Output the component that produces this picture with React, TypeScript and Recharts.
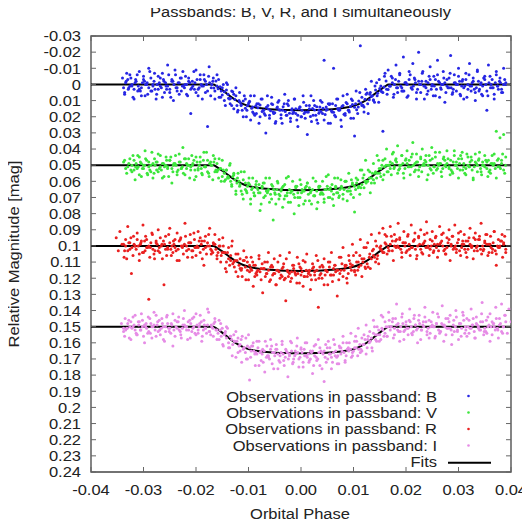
import React from 'react';
import { ComposedChart, Scatter, Line, XAxis, YAxis, ReferenceArea } from 'recharts';

// scattered observations: [orbital phase, relative magnitude]
const obsB: [number, number][] = [
  [-0.034, -0.004], [-0.0336, 0.006], [-0.0333, -0.002], [-0.0329, 0.003], [-0.0326, -0.006], [-0.0322, 0.001],
  [-0.0318, 0.009], [-0.0315, -0.003], [-0.0311, 0.004], [-0.0308, -0.008], [-0.0304, 0.002], [-0.03, -0.005],
  [-0.0297, 0.007], [-0.0293, -0.001], [-0.029, -0.01], [-0.0286, 0.004], [-0.0282, 0.0], [-0.0279, -0.007],
  [-0.0275, 0.006], [-0.0272, 0.003], [-0.0268, -0.004], [-0.0264, 0.008], [-0.0261, -0.002], [-0.0257, 0.001],
  [-0.0254, -0.012], [-0.025, 0.005], [-0.0246, -0.003], [-0.0243, 0.01], [-0.0239, -0.006], [-0.0236, 0.002],
  [-0.0232, -0.001], [-0.0228, 0.004], [-0.0225, -0.008], [-0.0221, 0.0], [-0.0218, 0.006], [-0.0214, -0.004],
  [-0.021, 0.018], [-0.0207, -0.002], [-0.0203, 0.003], [-0.02, -0.009], [-0.0196, 0.007], [-0.0192, -0.003],
  [-0.0189, 0.001], [-0.0185, -0.006], [-0.0182, 0.005], [-0.0178, 0.026], [-0.0175, -0.011], [-0.0171, 0.002],
  [-0.0167, -0.004], [-0.0164, 0.009], [-0.016, 0.001], [-0.0157, -0.003], [-0.0153, 0.008], [-0.015, 0.002],
  [-0.0146, 0.01], [-0.0142, -0.001], [-0.0139, 0.006], [-0.0135, 0.012], [-0.0132, 0.004], [-0.0128, 0.015],
  [-0.0124, 0.007], [-0.0121, 0.017], [-0.0117, 0.005], [-0.0114, 0.013], [-0.011, 0.02], [-0.0106, 0.009],
  [-0.0103, 0.016], [-0.0099, 0.011], [-0.0096, 0.022], [-0.0092, 0.014], [-0.0089, 0.007], [-0.0085, 0.018],
  [-0.0081, 0.012], [-0.0078, 0.02], [-0.0074, 0.009], [-0.0071, 0.016], [-0.0067, 0.03], [-0.0063, 0.013],
  [-0.006, 0.019], [-0.0056, 0.008], [-0.0053, 0.017], [-0.0049, 0.024], [-0.0045, 0.014], [-0.0042, 0.01],
  [-0.0038, 0.021], [-0.0035, 0.016], [-0.0031, 0.006], [-0.0027, 0.019], [-0.0024, 0.013], [-0.002, 0.023],
  [-0.0017, 0.015], [-0.0013, 0.009], [-0.001, 0.018], [-0.0006, 0.026], [-0.0002, 0.014], [0.0001, 0.02],
  [0.0005, 0.011], [0.0008, 0.017], [0.0012, 0.031], [0.0016, 0.015], [0.0019, 0.007], [0.0023, 0.019],
  [0.0026, 0.013], [0.003, 0.022], [0.0034, 0.016], [0.0037, 0.01], [0.0041, 0.018], [0.0044, -0.015],
  [0.0048, 0.014], [0.0052, 0.024], [0.0055, 0.012], [0.0059, 0.017], [0.0062, -0.01], [0.0066, 0.02],
  [0.007, 0.009], [0.0073, 0.015], [0.0077, 0.026], [0.008, 0.013], [0.0084, 0.018], [0.0088, 0.006],
  [0.0091, 0.016], [0.0095, 0.021], [0.0098, 0.01], [0.0102, 0.032], [0.0105, 0.004], [0.0109, 0.014],
  [0.0113, -0.024], [0.0116, 0.008], [0.012, 0.017], [0.0123, 0.003], [0.0127, 0.012], [0.0131, 0.006],
  [0.0134, -0.002], [0.0138, 0.01], [0.0141, 0.001], [0.0145, 0.007], [0.0149, -0.003], [0.0152, 0.004],
  [0.0156, 0.029], [0.0159, -0.005], [0.0163, 0.003], [0.0166, -0.009], [0.017, 0.001], [0.0174, -0.004],
  [0.0177, 0.006], [0.0181, -0.012], [0.0184, 0.002], [0.0188, -0.006], [0.0192, 0.004], [0.0195, -0.017],
  [0.0199, -0.001], [0.0202, 0.008], [0.0206, -0.008], [0.021, 0.002], [0.0213, -0.013], [0.0217, -0.003],
  [0.022, 0.005], [0.0224, -0.02], [0.0228, 0.0], [0.0231, -0.007], [0.0235, 0.009], [0.0238, -0.002],
  [0.0242, 0.004], [0.0246, -0.011], [0.0249, 0.001], [0.0253, -0.005], [0.0256, 0.007], [0.026, -0.015],
  [0.0264, -0.001], [0.0267, 0.003], [0.0271, -0.008], [0.0274, 0.011], [0.0278, -0.003], [0.0282, 0.002],
  [0.0285, -0.018], [0.0289, 0.005], [0.0292, -0.006], [0.0296, 0.0], [0.03, -0.01], [0.0303, 0.006],
  [0.0307, -0.002], [0.031, 0.009], [0.0314, -0.007], [0.0318, 0.003], [0.0321, -0.013], [0.0325, 0.001],
  [0.0328, -0.004], [0.0332, 0.01], [0.0336, -0.009], [0.0339, 0.004], [0.0343, -0.001], [0.0346, 0.007],
  [0.035, -0.005], [0.0354, 0.016], [0.0357, -0.012], [0.0361, 0.002], [0.0364, -0.003], [0.0368, 0.006],
  [0.0372, -0.008], [0.0375, 0.001], [0.0379, -0.004], [0.0382, 0.005], [0.0386, -0.01], [0.039, 0.0],
];

const obsV: [number, number][] = [
  [-0.0322, 0.054], [-0.0318, 0.047], [-0.0315, 0.051], [-0.0311, 0.044], [-0.0308, 0.056], [-0.0304, 0.049],
  [-0.03, 0.052], [-0.0297, 0.041], [-0.0293, 0.055], [-0.029, 0.048], [-0.0286, 0.05], [-0.0282, 0.058],
  [-0.0279, 0.046], [-0.0275, 0.053], [-0.0272, 0.043], [-0.0268, 0.051], [-0.0264, 0.049], [-0.0261, 0.057],
  [-0.0257, 0.045], [-0.0254, 0.052], [-0.025, 0.047], [-0.0246, 0.061], [-0.0243, 0.05], [-0.0239, 0.044],
  [-0.0236, 0.054], [-0.0232, 0.048], [-0.0228, 0.052], [-0.0225, 0.039], [-0.0221, 0.056], [-0.0218, 0.049],
  [-0.0214, 0.046], [-0.021, 0.053], [-0.0207, 0.05], [-0.0203, 0.059], [-0.02, 0.045], [-0.0196, 0.052],
  [-0.0192, 0.048], [-0.0189, 0.055], [-0.0185, 0.042], [-0.0182, 0.051], [-0.0178, 0.047], [-0.0175, 0.057],
  [-0.0171, 0.05], [-0.0167, 0.044], [-0.0164, 0.054], [-0.016, 0.049], [-0.0157, 0.058], [-0.0153, 0.052],
  [-0.015, 0.047], [-0.0146, 0.06], [-0.0142, 0.053], [-0.0139, 0.057], [-0.0135, 0.049], [-0.0132, 0.062],
  [-0.0128, 0.055], [-0.0124, 0.066], [-0.0121, 0.058], [-0.0117, 0.063], [-0.0114, 0.054], [-0.011, 0.071],
  [-0.0106, 0.061], [-0.0103, 0.067], [-0.0099, 0.058], [-0.0096, 0.074], [-0.0092, 0.064], [-0.0089, 0.069],
  [-0.0085, 0.06], [-0.0081, 0.067], [-0.0078, 0.078], [-0.0074, 0.063], [-0.0071, 0.07], [-0.0067, 0.058],
  [-0.0063, 0.066], [-0.006, 0.073], [-0.0056, 0.062], [-0.0053, 0.084], [-0.0049, 0.068], [-0.0045, 0.06],
  [-0.0042, 0.071], [-0.0038, 0.065], [-0.0035, 0.076], [-0.0031, 0.062], [-0.0027, 0.069], [-0.0024, 0.057],
  [-0.002, 0.073], [-0.0017, 0.066], [-0.0013, 0.08], [-0.001, 0.063], [-0.0006, 0.07], [-0.0002, 0.059],
  [0.0001, 0.067], [0.0005, 0.074], [0.0008, 0.064], [0.0012, 0.061], [0.0016, 0.072], [0.0019, 0.066],
  [0.0023, 0.058], [0.0026, 0.069], [0.003, 0.077], [0.0034, 0.063], [0.0037, 0.068], [0.0041, 0.06],
  [0.0044, 0.073], [0.0048, 0.065], [0.0052, 0.056], [0.0055, 0.07], [0.0059, 0.062], [0.0062, 0.075],
  [0.0066, 0.064], [0.007, 0.058], [0.0073, 0.069], [0.0077, 0.063], [0.008, 0.071], [0.0084, 0.06],
  [0.0088, 0.066], [0.0091, 0.055], [0.0095, 0.068], [0.0098, 0.061], [0.0102, 0.079], [0.0105, 0.058],
  [0.0109, 0.064], [0.0113, 0.053], [0.0116, 0.062], [0.012, 0.056], [0.0123, 0.047], [0.0127, 0.06],
  [0.0131, 0.054], [0.0134, 0.058], [0.0138, 0.049], [0.0141, 0.055], [0.0145, 0.044], [0.0149, 0.052],
  [0.0152, 0.057], [0.0156, 0.047], [0.0159, 0.051], [0.0163, 0.04], [0.0166, 0.054], [0.017, 0.048],
  [0.0174, 0.043], [0.0177, 0.052], [0.0181, 0.046], [0.0184, 0.038], [0.0188, 0.05], [0.0192, 0.044],
  [0.0195, 0.055], [0.0199, 0.047], [0.0202, 0.041], [0.0206, 0.051], [0.021, 0.045], [0.0213, 0.036],
  [0.0217, 0.049], [0.022, 0.043], [0.0224, 0.053], [0.0228, 0.046], [0.0231, 0.04], [0.0235, 0.05],
  [0.0238, 0.044], [0.0242, 0.056], [0.0246, 0.047], [0.0249, 0.039], [0.0253, 0.051], [0.0256, 0.045],
  [0.026, 0.049], [0.0264, 0.042], [0.0267, 0.054], [0.0271, 0.046], [0.0274, 0.05], [0.0278, 0.041],
  [0.0282, 0.052], [0.0285, 0.047], [0.0289, 0.055], [0.0292, 0.044], [0.0296, 0.05], [0.03, 0.046],
  [0.0303, 0.053], [0.0307, 0.042], [0.031, 0.049], [0.0314, 0.056], [0.0318, 0.045], [0.0321, 0.051],
  [0.0325, 0.047], [0.0328, 0.058], [0.0332, 0.043], [0.0336, 0.05], [0.0339, 0.046], [0.0343, 0.054],
  [0.0346, 0.048], [0.035, 0.044], [0.0354, 0.052], [0.0357, 0.047], [0.0361, 0.055], [0.0364, 0.049],
  [0.0368, 0.043], [0.0372, 0.029], [0.0375, 0.051], [0.0379, 0.033], [0.0382, 0.047], [0.0386, 0.031],
  [0.039, 0.045],
];

const obsR: [number, number][] = [
  [-0.0352, 0.095], [-0.0348, 0.103], [-0.0345, 0.091], [-0.0341, 0.099], [-0.0337, 0.107], [-0.0334, 0.096],
  [-0.033, 0.088], [-0.0326, 0.102], [-0.0323, 0.117], [-0.0319, 0.094], [-0.0316, 0.1], [-0.0312, 0.092],
  [-0.0308, 0.105], [-0.0305, 0.098], [-0.0301, 0.087], [-0.0297, 0.103], [-0.0294, 0.096], [-0.029, 0.133],
  [-0.0287, 0.101], [-0.0283, 0.093], [-0.0279, 0.108], [-0.0276, 0.097], [-0.0272, 0.09], [-0.0269, 0.104],
  [-0.0265, 0.099], [-0.0261, 0.124], [-0.0258, 0.094], [-0.0254, 0.102], [-0.025, 0.089], [-0.0247, 0.106],
  [-0.0243, 0.097], [-0.024, 0.101], [-0.0236, 0.092], [-0.0232, 0.109], [-0.0229, 0.095], [-0.0225, 0.1],
  [-0.0221, 0.086], [-0.0218, 0.103], [-0.0214, 0.098], [-0.0211, 0.093], [-0.0207, 0.107], [-0.0203, 0.096],
  [-0.02, 0.101], [-0.0196, 0.091], [-0.0192, 0.104], [-0.0189, 0.097], [-0.0185, 0.112], [-0.0182, 0.094],
  [-0.0178, 0.1], [-0.0174, 0.089], [-0.0171, 0.105], [-0.0167, 0.098], [-0.0164, 0.093], [-0.016, 0.106],
  [-0.0156, 0.1], [-0.0153, 0.11], [-0.0149, 0.095], [-0.0145, 0.104], [-0.0142, 0.116], [-0.0138, 0.101],
  [-0.0134, 0.109], [-0.0131, 0.097], [-0.0127, 0.113], [-0.0124, 0.105], [-0.012, 0.119], [-0.0116, 0.108],
  [-0.0113, 0.114], [-0.0109, 0.103], [-0.0105, 0.121], [-0.0102, 0.11], [-0.0098, 0.116], [-0.0095, 0.107],
  [-0.0091, 0.125], [-0.0087, 0.112], [-0.0084, 0.118], [-0.008, 0.106], [-0.0076, 0.114], [-0.0073, 0.129],
  [-0.0069, 0.11], [-0.0065, 0.117], [-0.0062, 0.104], [-0.0058, 0.121], [-0.0054, 0.113], [-0.0051, 0.108],
  [-0.0047, 0.124], [-0.0044, 0.115], [-0.004, 0.106], [-0.0036, 0.119], [-0.0033, 0.111], [-0.0029, 0.134],
  [-0.0025, 0.116], [-0.0022, 0.104], [-0.0018, 0.12], [-0.0014, 0.112], [-0.0011, 0.117], [-0.0007, 0.107],
  [-0.0003, 0.123], [0.0, 0.114], [0.0004, 0.109], [0.0007, 0.119], [0.0011, 0.105], [0.0015, 0.116],
  [0.0018, 0.127], [0.0022, 0.111], [0.0026, 0.118], [0.0029, 0.106], [0.0033, 0.138], [0.0036, 0.113],
  [0.004, 0.12], [0.0044, 0.108], [0.0047, 0.115], [0.0051, 0.124], [0.0055, 0.11], [0.0058, 0.104],
  [0.0062, 0.118], [0.0065, 0.112], [0.0069, 0.131], [0.0073, 0.107], [0.0076, 0.115], [0.008, 0.101],
  [0.0084, 0.113], [0.0087, 0.12], [0.0091, 0.106], [0.0094, 0.111], [0.0098, 0.099], [0.0102, 0.116],
  [0.0105, 0.104], [0.0109, 0.11], [0.0113, 0.096], [0.0116, 0.108], [0.012, 0.101], [0.0123, 0.114],
  [0.0127, 0.098], [0.0131, 0.105], [0.0134, 0.093], [0.0138, 0.102], [0.0142, 0.097], [0.0145, 0.108],
  [0.0149, 0.092], [0.0152, 0.1], [0.0156, 0.089], [0.016, 0.098], [0.0163, 0.094], [0.0167, 0.103],
  [0.017, 0.088], [0.0174, 0.097], [0.0178, 0.093], [0.0181, 0.101], [0.0185, 0.086], [0.0188, 0.096],
  [0.0192, 0.104], [0.0196, 0.091], [0.0199, 0.098], [0.0203, 0.094], [0.0206, 0.102], [0.021, 0.087],
  [0.0214, 0.097], [0.0217, 0.092], [0.0221, 0.106], [0.0224, 0.095], [0.0228, 0.09], [0.0232, 0.099],
  [0.0235, 0.093], [0.0239, 0.085], [0.0242, 0.101], [0.0246, 0.096], [0.025, 0.091], [0.0253, 0.103],
  [0.0257, 0.094], [0.026, 0.099], [0.0264, 0.088], [0.0268, 0.097], [0.0271, 0.092], [0.0275, 0.105],
  [0.0278, 0.095], [0.0282, 0.09], [0.0286, 0.1], [0.0289, 0.094], [0.0293, 0.087], [0.0296, 0.102],
  [0.03, 0.096], [0.0304, 0.091], [0.0307, 0.099], [0.0311, 0.093], [0.0314, 0.104], [0.0318, 0.097],
  [0.0322, 0.089], [0.0325, 0.101], [0.0329, 0.095], [0.0332, 0.092], [0.0336, 0.1], [0.034, 0.096],
  [0.0343, 0.086], [0.0347, 0.103], [0.035, 0.097], [0.0354, 0.093], [0.0358, 0.099], [0.0361, 0.094],
  [0.0365, 0.102], [0.0368, 0.091], [0.0372, 0.112], [0.0376, 0.096], [0.0379, 0.1], [0.0383, 0.093],
  [0.0386, 0.098], [0.039, 0.104],
];

const obsI: [number, number][] = [
  [-0.0342, 0.148], [-0.0338, 0.153], [-0.0335, 0.145], [-0.0331, 0.151], [-0.0327, 0.157], [-0.0324, 0.147],
  [-0.032, 0.15], [-0.0316, 0.143], [-0.0313, 0.155], [-0.0309, 0.149], [-0.0305, 0.152], [-0.0302, 0.146],
  [-0.0298, 0.16], [-0.0295, 0.148], [-0.0291, 0.144], [-0.0287, 0.154], [-0.0284, 0.15], [-0.028, 0.141],
  [-0.0276, 0.156], [-0.0273, 0.147], [-0.0269, 0.152], [-0.0265, 0.145], [-0.0262, 0.158], [-0.0258, 0.15],
  [-0.0255, 0.143], [-0.0251, 0.153], [-0.0247, 0.148], [-0.0244, 0.162], [-0.024, 0.146], [-0.0236, 0.151],
  [-0.0233, 0.144], [-0.0229, 0.155], [-0.0225, 0.149], [-0.0222, 0.14], [-0.0218, 0.152], [-0.0215, 0.147],
  [-0.0211, 0.157], [-0.0207, 0.145], [-0.0204, 0.15], [-0.02, 0.142], [-0.0196, 0.154], [-0.0193, 0.148],
  [-0.0189, 0.159], [-0.0185, 0.146], [-0.0182, 0.151], [-0.0178, 0.139], [-0.0175, 0.153], [-0.0171, 0.149],
  [-0.0167, 0.156], [-0.0164, 0.145], [-0.016, 0.152], [-0.0156, 0.158], [-0.0153, 0.148], [-0.0149, 0.161],
  [-0.0145, 0.154], [-0.0142, 0.15], [-0.0138, 0.163], [-0.0135, 0.156], [-0.0131, 0.168], [-0.0127, 0.159],
  [-0.0124, 0.153], [-0.012, 0.166], [-0.0116, 0.161], [-0.0113, 0.172], [-0.0109, 0.163], [-0.0105, 0.157],
  [-0.0102, 0.17], [-0.0098, 0.183], [-0.0095, 0.165], [-0.0091, 0.16], [-0.0087, 0.174], [-0.0084, 0.167],
  [-0.008, 0.159], [-0.0076, 0.171], [-0.0073, 0.164], [-0.0069, 0.178], [-0.0065, 0.162], [-0.0062, 0.169],
  [-0.0058, 0.158], [-0.0055, 0.173], [-0.0051, 0.166], [-0.0047, 0.161], [-0.0044, 0.176], [-0.004, 0.168],
  [-0.0036, 0.159], [-0.0033, 0.171], [-0.0029, 0.164], [-0.0025, 0.181], [-0.0022, 0.167], [-0.0018, 0.16],
  [-0.0015, 0.172], [-0.0011, 0.165], [-0.0007, 0.157], [-0.0004, 0.17], [0.0, 0.163], [0.0004, 0.175],
  [0.0007, 0.168], [0.0011, 0.16], [0.0015, 0.172], [0.0018, 0.165], [0.0022, 0.179], [0.0025, 0.162],
  [0.0029, 0.169], [0.0033, 0.158], [0.0036, 0.174], [0.004, 0.166], [0.0044, 0.184], [0.0047, 0.161],
  [0.0051, 0.17], [0.0055, 0.163], [0.0058, 0.176], [0.0062, 0.158], [0.0065, 0.168], [0.0069, 0.173],
  [0.0073, 0.162], [0.0076, 0.167], [0.008, 0.156], [0.0084, 0.171], [0.0087, 0.16], [0.0091, 0.165],
  [0.0095, 0.154], [0.0098, 0.168], [0.0102, 0.159], [0.0105, 0.163], [0.0109, 0.151], [0.0113, 0.166],
  [0.0116, 0.157], [0.012, 0.161], [0.0124, 0.149], [0.0127, 0.158], [0.0131, 0.153], [0.0135, 0.163],
  [0.0138, 0.146], [0.0142, 0.155], [0.0145, 0.15], [0.0149, 0.159], [0.0153, 0.143], [0.0156, 0.152],
  [0.016, 0.147], [0.0164, 0.156], [0.0167, 0.141], [0.0171, 0.15], [0.0175, 0.145], [0.0178, 0.155],
  [0.0182, 0.136], [0.0185, 0.148], [0.0189, 0.153], [0.0193, 0.142], [0.0196, 0.158], [0.02, 0.147],
  [0.0204, 0.151], [0.0207, 0.139], [0.0211, 0.154], [0.0215, 0.145], [0.0218, 0.149], [0.0222, 0.16],
  [0.0225, 0.143], [0.0229, 0.152], [0.0233, 0.147], [0.0236, 0.138], [0.024, 0.155], [0.0244, 0.146],
  [0.0247, 0.15], [0.0251, 0.141], [0.0255, 0.157], [0.0258, 0.148], [0.0262, 0.144], [0.0265, 0.153],
  [0.0269, 0.137], [0.0273, 0.149], [0.0276, 0.155], [0.028, 0.145], [0.0284, 0.151], [0.0287, 0.161],
  [0.0291, 0.146], [0.0295, 0.14], [0.0298, 0.152], [0.0302, 0.148], [0.0305, 0.156], [0.0309, 0.143],
  [0.0313, 0.15], [0.0316, 0.145], [0.032, 0.154], [0.0324, 0.139], [0.0327, 0.149], [0.0331, 0.157],
  [0.0334, 0.144], [0.0338, 0.151], [0.0342, 0.147], [0.0345, 0.135], [0.0349, 0.153], [0.0353, 0.146],
  [0.0356, 0.15], [0.036, 0.142], [0.0364, 0.155], [0.0367, 0.148], [0.0371, 0.138], [0.0375, 0.152],
  [0.0378, 0.145], [0.0382, 0.136], [0.0385, 0.15], [0.0389, 0.143], [0.0393, 0.154], [0.0396, 0.139],
  [0.04, 0.147],
];

// dense core of observations on a common phase grid
const phaseDense = [
  -0.0338, -0.0334, -0.033, -0.0326, -0.0322, -0.0318, -0.0314, -0.031, -0.0306, -0.0302,
  -0.0298, -0.0294, -0.029, -0.0286, -0.0282, -0.0278, -0.0274, -0.027, -0.0266, -0.0262,
  -0.0258, -0.0254, -0.025, -0.0246, -0.0242, -0.0238, -0.0234, -0.023, -0.0226, -0.0222,
  -0.0218, -0.0214, -0.021, -0.0206, -0.0202, -0.0198, -0.0194, -0.019, -0.0186, -0.0182,
  -0.0178, -0.0174, -0.017, -0.0166, -0.0162, -0.0158, -0.0154, -0.015, -0.0146, -0.0142,
  -0.0138, -0.0134, -0.013, -0.0126, -0.0122, -0.0118, -0.0114, -0.011, -0.0106, -0.0102,
  -0.0098, -0.0094, -0.009, -0.0086, -0.0082, -0.0078, -0.0074, -0.007, -0.0066, -0.0062,
  -0.0058, -0.0054, -0.005, -0.0046, -0.0042, -0.0038, -0.0034, -0.003, -0.0026, -0.0022,
  -0.0018, -0.0014, -0.001, -0.0006, -0.0002, 0.0002, 0.0006, 0.001, 0.0014, 0.0018,
  0.0022, 0.0026, 0.003, 0.0034, 0.0038, 0.0042, 0.0046, 0.005, 0.0054, 0.0058,
  0.0062, 0.0066, 0.007, 0.0074, 0.0078, 0.0082, 0.0086, 0.009, 0.0094, 0.0098,
  0.0102, 0.0106, 0.011, 0.0114, 0.0118, 0.0122, 0.0126, 0.013, 0.0134, 0.0138,
  0.0142, 0.0146, 0.015, 0.0154, 0.0158, 0.0162, 0.0166, 0.017, 0.0174, 0.0178,
  0.0182, 0.0186, 0.019, 0.0194, 0.0198, 0.0202, 0.0206, 0.021, 0.0214, 0.0218,
  0.0222, 0.0226, 0.023, 0.0234, 0.0238, 0.0242, 0.0246, 0.025, 0.0254, 0.0258,
  0.0262, 0.0266, 0.027, 0.0274, 0.0278, 0.0282, 0.0286, 0.029, 0.0294, 0.0298,
  0.0302, 0.0306, 0.031, 0.0314, 0.0318, 0.0322, 0.0326, 0.033, 0.0334, 0.0338,
  0.0342, 0.0346, 0.035, 0.0354, 0.0358, 0.0362, 0.0366, 0.037, 0.0374, 0.0378,
  0.0382, 0.0386, 0.039,
];
const denseB = [
  0.002, -0.001, -0.003, 0.001, 0, 0.003, -0.002, 0.001, 0.004, -0.001,
  -0.002, 0, 0.002, -0.004, 0.001, 0.003, 0, -0.001, 0.002, -0.003,
  -0.001, 0.001, 0.003, -0.002, 0, 0.002, -0.001, -0.004, 0.001, 0.002,
  0, -0.002, 0.003, 0.001, -0.001, -0.003, 0.002, 0, 0.001, -0.002,
  0.004, -0.001, 0, 0.0022, -0.0022, 0.0026, 0.0015, 0.0065, 0.0045, 0.0035,
  0.0085, 0.0085, 0.0045, 0.0093, 0.0131, 0.0099, 0.0125, 0.0102, 0.0147, 0.0132,
  0.0104, 0.0147, 0.018, 0.0132, 0.0145, 0.0127, 0.0168, 0.018, 0.0141, 0.0152,
  0.0163, 0.0124, 0.0175, 0.0146, 0.0157, 0.0187, 0.0138, 0.0168, 0.0119, 0.0179,
  0.0159, 0.017, 0.015, 0.019, 0.014, 0.016, 0.018, 0.013, 0.017, 0.0199,
  0.0149, 0.0159, 0.0138, 0.0178, 0.0167, 0.0147, 0.0186, 0.0155, 0.0124, 0.0163,
  0.0172, 0.0131, 0.015, 0.0158, 0.0137, 0.0185, 0.0112, 0.016, 0.0137, 0.0124,
  0.0142, 0.0157, 0.0102, 0.0115, 0.0129, 0.0091, 0.0053, 0.0095, 0.0075, 0.0095,
  0.0035, 0.0055, 0.0025, 0.0045, 0.0016, -0.0022, 0.0032, 0.001, -0.001, 0,
  0.002, -0.002, 0.001, 0.004, -0.001, 0, -0.003, 0.002, 0.001, -0.001,
  0.003, 0, -0.002, 0.001, 0.002, -0.001, -0.003, 0, 0.001, 0.003,
  -0.002, 0.002, 0, -0.001, 0.001, -0.004, 0.002, 0.003, -0.001, 0,
  -0.002, 0.001, 0.002, -0.003, 0, 0.001, -0.001, 0.003, 0.002, -0.002,
  0, 0.001, -0.003, 0.004, -0.001, 0, 0.002, -0.001, 0.001, -0.002,
  0.003, 0, -0.001,
];
const denseV = [
  0.048, 0.052, 0.051, 0.046, 0.05, 0.053, 0.049, 0.051, 0.048, 0.052,
  0.05, 0.047, 0.051, 0.054, 0.049, 0.05, 0.048, 0.052, 0.053, 0.049,
  0.05, 0.051, 0.047, 0.052, 0.049, 0.05, 0.053, 0.048, 0.051, 0.046,
  0.052, 0.05, 0.051, 0.049, 0.053, 0.048, 0.05, 0.052, 0.047, 0.051,
  0.054, 0.049, 0.05, 0.048, 0.053, 0.053, 0.052, 0.057, 0.055, 0.053,
  0.058, 0.06, 0.057, 0.059, 0.061, 0.06, 0.066, 0.059, 0.065, 0.063,
  0.062, 0.065, 0.067, 0.062, 0.065, 0.067, 0.064, 0.061, 0.066, 0.065,
  0.068, 0.063, 0.067, 0.065, 0.068, 0.066, 0.063, 0.069, 0.067, 0.065,
  0.066, 0.068, 0.064, 0.067, 0.07, 0.065, 0.066, 0.063, 0.068, 0.067,
  0.065, 0.069, 0.066, 0.064, 0.067, 0.068, 0.065, 0.063, 0.065, 0.066,
  0.068, 0.063, 0.067, 0.065, 0.064, 0.065, 0.06, 0.066, 0.066, 0.062,
  0.063, 0.061, 0.063, 0.064, 0.058, 0.06, 0.06, 0.058, 0.061, 0.059,
  0.054, 0.055, 0.055, 0.05, 0.056, 0.05, 0.05, 0.052, 0.049, 0.051,
  0.048, 0.053, 0.05, 0.049, 0.052, 0.049, 0.047, 0.051, 0.05, 0.053,
  0.048, 0.051, 0.054, 0.049, 0.048, 0.05, 0.052, 0.046, 0.051, 0.053,
  0.05, 0.049, 0.052, 0.047, 0.049, 0.051, 0.053, 0.048, 0.05, 0.052,
  0.049, 0.046, 0.051, 0.052, 0.05, 0.048, 0.053, 0.051, 0.049, 0.047,
  0.052, 0.05, 0.051, 0.048, 0.054, 0.049, 0.05, 0.052, 0.047, 0.051,
  0.049, 0.053, 0.05,
];
const denseR = [
  0.099, 0.1, 0.103, 0.098, 0.101, 0.099, 0.102, 0.1, 0.099, 0.104,
  0.097, 0.101, 0.1, 0.098, 0.102, 0.103, 0.099, 0.101, 0.1, 0.097,
  0.102, 0.101, 0.098, 0.1, 0.099, 0.103, 0.102, 0.096, 0.101, 0.099,
  0.1, 0.102, 0.098, 0.103, 0.101, 0.1, 0.097, 0.099, 0.102, 0.101,
  0.098, 0.1, 0.103, 0.099, 0.102, 0.104, 0.1, 0.104, 0.104, 0.11,
  0.108, 0.106, 0.111, 0.109, 0.109, 0.112, 0.115, 0.109, 0.113, 0.115,
  0.112, 0.115, 0.112, 0.117, 0.115, 0.116, 0.111, 0.114, 0.117, 0.115,
  0.113, 0.118, 0.117, 0.115, 0.116, 0.118, 0.113, 0.12, 0.115, 0.117,
  0.116, 0.114, 0.118, 0.117, 0.113, 0.116, 0.119, 0.115, 0.117, 0.118,
  0.114, 0.116, 0.115, 0.12, 0.117, 0.113, 0.118, 0.116, 0.113, 0.118,
  0.114, 0.116, 0.115, 0.117, 0.111, 0.115, 0.112, 0.117, 0.113, 0.112,
  0.115, 0.11, 0.113, 0.112, 0.11, 0.113, 0.111, 0.107, 0.108, 0.106,
  0.11, 0.106, 0.101, 0.103, 0.104, 0.099, 0.101, 0.099, 0.103, 0.1,
  0.096, 0.101, 0.102, 0.098, 0.1, 0.103, 0.099, 0.101, 0.097, 0.102,
  0.1, 0.099, 0.104, 0.098, 0.101, 0.1, 0.102, 0.097, 0.099, 0.101,
  0.103, 0.098, 0.1, 0.102, 0.101, 0.096, 0.099, 0.102, 0.1, 0.098,
  0.103, 0.101, 0.099, 0.097, 0.102, 0.099, 0.1, 0.103, 0.101, 0.096,
  0.102, 0.1, 0.098, 0.099, 0.104, 0.101, 0.098, 0.103, 0.1, 0.101,
  0.097, 0.099, 0.102,
];
const denseI = [
  0.151, 0.152, 0.148, 0.15, 0.151, 0.149, 0.154, 0.147, 0.152, 0.15,
  0.149, 0.151, 0.153, 0.148, 0.15, 0.152, 0.149, 0.146, 0.151, 0.15,
  0.153, 0.148, 0.151, 0.149, 0.152, 0.15, 0.147, 0.153, 0.151, 0.149,
  0.15, 0.152, 0.148, 0.151, 0.154, 0.149, 0.15, 0.147, 0.152, 0.151,
  0.149, 0.153, 0.15, 0.148, 0.152, 0.154, 0.152, 0.151, 0.155, 0.157,
  0.16, 0.156, 0.161, 0.159, 0.159, 0.162, 0.158, 0.164, 0.166, 0.162,
  0.163, 0.162, 0.165, 0.166, 0.163, 0.166, 0.167, 0.165, 0.169, 0.168,
  0.164, 0.166, 0.168, 0.164, 0.171, 0.166, 0.167, 0.169, 0.166, 0.168,
  0.165, 0.17, 0.167, 0.166, 0.169, 0.166, 0.164, 0.168, 0.167, 0.17,
  0.165, 0.168, 0.171, 0.166, 0.165, 0.167, 0.169, 0.163, 0.167, 0.169,
  0.166, 0.165, 0.168, 0.163, 0.165, 0.166, 0.168, 0.163, 0.164, 0.166,
  0.163, 0.159, 0.164, 0.164, 0.161, 0.158, 0.163, 0.16, 0.157, 0.154,
  0.158, 0.155, 0.155, 0.151, 0.156, 0.15, 0.15, 0.152, 0.147, 0.151,
  0.149, 0.153, 0.15, 0.148, 0.152, 0.151, 0.146, 0.15, 0.153, 0.149,
  0.151, 0.148, 0.152, 0.15, 0.147, 0.151, 0.154, 0.149, 0.15, 0.148,
  0.152, 0.153, 0.149, 0.15, 0.151, 0.147, 0.152, 0.149, 0.15, 0.153,
  0.148, 0.151, 0.146, 0.152, 0.15, 0.151, 0.149, 0.153, 0.148, 0.15,
  0.152, 0.147, 0.151, 0.154, 0.149, 0.15, 0.148, 0.152, 0.151, 0.149,
  0.153, 0.15, 0.147,
];

// wider spread of observations on an offset phase grid
const phaseMid = [
  -0.0336, -0.0332, -0.0328, -0.0324, -0.032, -0.0316, -0.0312, -0.0308, -0.0304, -0.03,
  -0.0296, -0.0292, -0.0288, -0.0284, -0.028, -0.0276, -0.0272, -0.0268, -0.0264, -0.026,
  -0.0256, -0.0252, -0.0248, -0.0244, -0.024, -0.0236, -0.0232, -0.0228, -0.0224, -0.022,
  -0.0216, -0.0212, -0.0208, -0.0204, -0.02, -0.0196, -0.0192, -0.0188, -0.0184, -0.018,
  -0.0176, -0.0172, -0.0168, -0.0164, -0.016, -0.0156, -0.0152, -0.0148, -0.0144, -0.014,
  -0.0136, -0.0132, -0.0128, -0.0124, -0.012, -0.0116, -0.0112, -0.0108, -0.0104, -0.01,
  -0.0096, -0.0092, -0.0088, -0.0084, -0.008, -0.0076, -0.0072, -0.0068, -0.0064, -0.006,
  -0.0056, -0.0052, -0.0048, -0.0044, -0.004, -0.0036, -0.0032, -0.0028, -0.0024, -0.002,
  -0.0016, -0.0012, -0.0008, -0.0004, 0, 0.0004, 0.0008, 0.0012, 0.0016, 0.002,
  0.0024, 0.0028, 0.0032, 0.0036, 0.004, 0.0044, 0.0048, 0.0052, 0.0056, 0.006,
  0.0064, 0.0068, 0.0072, 0.0076, 0.008, 0.0084, 0.0088, 0.0092, 0.0096, 0.01,
  0.0104, 0.0108, 0.0112, 0.0116, 0.012, 0.0124, 0.0128, 0.0132, 0.0136, 0.014,
  0.0144, 0.0148, 0.0152, 0.0156, 0.016, 0.0164, 0.0168, 0.0172, 0.0176, 0.018,
  0.0184, 0.0188, 0.0192, 0.0196, 0.02, 0.0204, 0.0208, 0.0212, 0.0216, 0.022,
  0.0224, 0.0228, 0.0232, 0.0236, 0.024, 0.0244, 0.0248, 0.0252, 0.0256, 0.026,
  0.0264, 0.0268, 0.0272, 0.0276, 0.028, 0.0284, 0.0288, 0.0292, 0.0296, 0.03,
  0.0304, 0.0308, 0.0312, 0.0316, 0.032, 0.0324, 0.0328, 0.0332, 0.0336, 0.034,
  0.0344, 0.0348, 0.0352, 0.0356, 0.036, 0.0364, 0.0368, 0.0372, 0.0376, 0.038,
  0.0384, 0.0388,
];
const midB = [
  0.005, -0.007, 0.002, -0.004, 0.008, -0.001, -0.006, 0.003, 0.007, -0.003,
  0, 0.006, -0.008, 0.004, -0.002, 0.009, -0.005, 0.001, -0.007, 0.005,
  0.003, -0.006, 0.008, -0.002, -0.009, 0.004, 0.006, -0.004, 0.001, -0.005,
  0.007, -0.001, 0.002, -0.008, 0.005, 0.003, -0.006, 0.009, -0.003, 0,
  -0.005, 0.007, -0.002, 0.004, -0.006, 0.008, 0.004, 0, 0.013, 0,
  0.009, 0.013, 0.006, 0.002, 0.016, 0.011, 0.016, 0.007, 0.02, 0.012,
  0.007, 0.017, 0.019, 0.012, 0.024, 0.009, 0.016, 0.019, 0.007, 0.021,
  0.012, 0.018, 0.023, 0.011, 0.016, 0.024, 0.012, 0.019, 0.01, 0.021,
  0.018, 0.009, 0.022, 0.015, 0.02, 0.007, 0.021, 0.017, 0.013, 0.023,
  0.01, 0.019, 0.024, 0.014, 0.011, 0.022, 0.016, 0.012, 0.024, 0.012,
  0.019, 0.009, 0.016, 0.022, 0.007, 0.019, 0.012, 0.017, 0.009, 0.021,
  0.012, 0.018, 0.005, 0.013, 0.014, 0.006, 0.018, 0.005, 0.007, 0.011,
  -0.001, 0.011, 0.001, 0.005, -0.007, 0.006, 0.001, -0.005, 0.008, -0.003,
  0.005, -0.007, 0.002, 0.004, -0.001, 0.007, -0.006, 0.003, -0.004, 0.009,
  -0.002, 0.005, -0.008, 0.001, 0.006, -0.005, 0.003, 0.007, -0.003, -0.006,
  0.008, 0, -0.004, 0.005, 0.002, -0.007, 0.006, -0.001, 0.004, -0.005,
  0.007, -0.003, 0.001, 0.008, -0.006, 0.004, -0.002, 0.005, -0.008, 0.003,
  0.006, -0.004, 0, 0.007, -0.005, 0.002, 0.009, -0.006, 0.003, -0.001,
  0.005, -0.003,
];
const midV = [
  0.047, 0.055, 0.049, 0.053, 0.044, 0.059, 0.052, 0.045, 0.057, 0.05,
  0.046, 0.056, 0.053, 0.042, 0.055, 0.048, 0.054, 0.044, 0.058, 0.051,
  0.047, 0.057, 0.045, 0.054, 0.049, 0.056, 0.043, 0.052, 0.055, 0.046,
  0.05, 0.058, 0.044, 0.047, 0.057, 0.053, 0.045, 0.056, 0.051, 0.042,
  0.055, 0.048, 0.059, 0.046, 0.054, 0.046, 0.06, 0.053, 0.059, 0.058,
  0.05, 0.063, 0.056, 0.068, 0.055, 0.062, 0.068, 0.054, 0.066, 0.061,
  0.071, 0.058, 0.069, 0.064, 0.062, 0.074, 0.061, 0.069, 0.067, 0.058,
  0.071, 0.065, 0.074, 0.061, 0.069, 0.064, 0.071, 0.058, 0.073, 0.067,
  0.06, 0.07, 0.063, 0.075, 0.062, 0.066, 0.072, 0.061, 0.064, 0.074,
  0.069, 0.06, 0.073, 0.063, 0.067, 0.071, 0.057, 0.07, 0.064, 0.071,
  0.058, 0.067, 0.07, 0.059, 0.068, 0.06, 0.072, 0.064, 0.059, 0.07,
  0.065, 0.059, 0.068, 0.053, 0.064, 0.061, 0.053, 0.067, 0.055, 0.061,
  0.058, 0.047, 0.052, 0.059, 0.046, 0.054, 0.05, 0.056, 0.042, 0.047,
  0.055, 0.052, 0.044, 0.058, 0.046, 0.051, 0.056, 0.043, 0.054, 0.048,
  0.057, 0.045, 0.05, 0.047, 0.059, 0.044, 0.053, 0.055, 0.042, 0.052,
  0.049, 0.057, 0.045, 0.051, 0.046, 0.056, 0.054, 0.041, 0.048, 0.058,
  0.044, 0.053, 0.055, 0.043, 0.051, 0.045, 0.059, 0.048, 0.054, 0.042,
  0.056, 0.05, 0.047, 0.057, 0.053, 0.044, 0.049, 0.058, 0.046, 0.052,
  0.043, 0.055,
];
const midR = [
  0.103, 0.108, 0.098, 0.095, 0.106, 0.1, 0.096, 0.109, 0.097, 0.104,
  0.094, 0.101, 0.107, 0.092, 0.105, 0.098, 0.103, 0.095, 0.108, 0.099,
  0.106, 0.093, 0.102, 0.104, 0.096, 0.109, 0.097, 0.1, 0.105, 0.094,
  0.107, 0.098, 0.103, 0.092, 0.106, 0.101, 0.095, 0.108, 0.097, 0.105,
  0.093, 0.102, 0.104, 0.099, 0.108, 0.096, 0.106, 0.1, 0.114, 0.104,
  0.112, 0.1, 0.11, 0.116, 0.105, 0.114, 0.119, 0.109, 0.107, 0.121,
  0.114, 0.11, 0.119, 0.116, 0.108, 0.121, 0.114, 0.119, 0.11, 0.122,
  0.112, 0.117, 0.124, 0.11, 0.12, 0.114, 0.121, 0.108, 0.119, 0.122,
  0.112, 0.116, 0.123, 0.111, 0.118, 0.125, 0.11, 0.119, 0.115, 0.121,
  0.113, 0.121, 0.109, 0.118, 0.112, 0.124, 0.115, 0.11, 0.118, 0.122,
  0.112, 0.115, 0.121, 0.107, 0.119, 0.112, 0.123, 0.109, 0.115, 0.106,
  0.118, 0.115, 0.106, 0.119, 0.108, 0.101, 0.113, 0.114, 0.103, 0.107,
  0.1, 0.111, 0.102, 0.104, 0.093, 0.105, 0.103, 0.094, 0.109, 0.097,
  0.1, 0.095, 0.107, 0.098, 0.104, 0.093, 0.106, 0.101, 0.096, 0.108,
  0.094, 0.102, 0.105, 0.097, 0.092, 0.106, 0.1, 0.104, 0.095, 0.107,
  0.099, 0.093, 0.103, 0.105, 0.098, 0.109, 0.094, 0.101, 0.104, 0.092,
  0.106, 0.097, 0.102, 0.107, 0.095, 0.1, 0.108, 0.096, 0.103, 0.094,
  0.105, 0.102, 0.093, 0.106, 0.099, 0.104, 0.091, 0.105, 0.101, 0.097,
  0.107, 0.094,
];
const midI = [
  0.156, 0.151, 0.146, 0.158, 0.144, 0.152, 0.155, 0.147, 0.142, 0.156,
  0.15, 0.154, 0.145, 0.157, 0.149, 0.143, 0.153, 0.155, 0.148, 0.159,
  0.144, 0.151, 0.154, 0.142, 0.156, 0.147, 0.152, 0.157, 0.145, 0.15,
  0.158, 0.146, 0.153, 0.144, 0.155, 0.152, 0.143, 0.156, 0.149, 0.154,
  0.141, 0.155, 0.151, 0.147, 0.158, 0.146, 0.156, 0.162, 0.153, 0.151,
  0.163, 0.158, 0.155, 0.169, 0.157, 0.165, 0.156, 0.163, 0.17, 0.155,
  0.169, 0.162, 0.167, 0.159, 0.174, 0.165, 0.172, 0.159, 0.168, 0.17,
  0.162, 0.176, 0.164, 0.167, 0.172, 0.161, 0.174, 0.165, 0.17, 0.159,
  0.173, 0.168, 0.162, 0.175, 0.164, 0.172, 0.16, 0.169, 0.171, 0.166,
  0.174, 0.161, 0.17, 0.163, 0.176, 0.165, 0.172, 0.159, 0.167, 0.172,
  0.161, 0.169, 0.173, 0.163, 0.16, 0.172, 0.164, 0.16, 0.169, 0.165,
  0.156, 0.168, 0.161, 0.165, 0.155, 0.167, 0.156, 0.159, 0.165, 0.15,
  0.159, 0.152, 0.158, 0.144, 0.154, 0.156, 0.146, 0.15, 0.157, 0.145,
  0.152, 0.159, 0.144, 0.153, 0.149, 0.155, 0.147, 0.155, 0.143, 0.152,
  0.146, 0.158, 0.149, 0.144, 0.153, 0.157, 0.147, 0.15, 0.156, 0.142,
  0.154, 0.148, 0.159, 0.145, 0.151, 0.143, 0.155, 0.153, 0.144, 0.158,
  0.148, 0.141, 0.154, 0.156, 0.146, 0.151, 0.145, 0.157, 0.149, 0.152,
  0.142, 0.155, 0.153, 0.144, 0.159, 0.147, 0.15, 0.145, 0.157, 0.148,
  0.154, 0.143,
];

// fitted transit model, one curve per passband
const fitPhase = [
  -0.04, -0.0167, -0.016, -0.015, -0.014, -0.013, -0.012, -0.011, -0.01, -0.008, -0.006, -0.004, -0.002, 0,
  0.002, 0.004, 0.006, 0.008, 0.01, 0.011, 0.012, 0.013, 0.014, 0.015, 0.016, 0.0167, 0.04,
];
const fitB = [0, 0, 0.0012, 0.0035, 0.006, 0.0085, 0.0105, 0.0122, 0.0133, 0.0146, 0.0153, 0.0157, 0.0159, 0.016,
  0.0159, 0.0157, 0.0153, 0.0146, 0.0133, 0.0122, 0.0105, 0.0085, 0.006, 0.0035, 0.0012, 0, 0];
const fitV = [0.05, 0.05, 0.0512, 0.0534, 0.0558, 0.0582, 0.0602, 0.0618, 0.0629, 0.0641, 0.0648, 0.0652, 0.0654, 0.0655,
  0.0654, 0.0652, 0.0648, 0.0641, 0.0629, 0.0618, 0.0602, 0.0582, 0.0558, 0.0534, 0.0512, 0.05, 0.05];
const fitR = [0.1, 0.1, 0.1012, 0.1034, 0.1058, 0.1082, 0.1102, 0.1118, 0.1129, 0.1141, 0.1148, 0.1152, 0.1154, 0.1155,
  0.1154, 0.1152, 0.1148, 0.1141, 0.1129, 0.1118, 0.1102, 0.1082, 0.1058, 0.1034, 0.1012, 0.1, 0.1];
const fitI = [0.15, 0.15, 0.1513, 0.1537, 0.1563, 0.1589, 0.161, 0.1627, 0.1639, 0.1652, 0.1659, 0.1663, 0.1664, 0.1665,
  0.1664, 0.1663, 0.1659, 0.1652, 0.1639, 0.1627, 0.161, 0.1589, 0.1563, 0.1537, 0.1513, 0.15, 0.15];

const xTicks = [-0.04, -0.03, -0.02, -0.01, 0, 0.01, 0.02, 0.03, 0.04];
const xTickLabels = ['-0.04', '-0.03', '-0.02', '-0.01', '0.00', '0.01', '0.02', '0.03', '0.04'];
const yTicks = [
  -0.03, -0.02, -0.01, 0, 0.01, 0.02, 0.03, 0.04, 0.05, 0.06, 0.07, 0.08, 0.09, 0.1,
  0.11, 0.12, 0.13, 0.14, 0.15, 0.16, 0.17, 0.18, 0.19, 0.2, 0.21, 0.22, 0.23, 0.24,
];

const bands = [
  { name: 'B', color: '#2626e4', obs: obsB, dense: denseB, mid: midB, fit: fitB },
  { name: 'V', color: '#3ce63c', obs: obsV, dense: denseV, mid: midV, fit: fitV },
  { name: 'R', color: '#ea2020', obs: obsR, dense: denseR, mid: midR, fit: fitR },
  { name: 'I', color: '#e68ce6', obs: obsI, dense: denseI, mid: midI, fit: fitI },
];

const FONT = '"Liberation Sans", Arial, Helvetica, sans-serif';
const W = 522;
const H = 509;
const PLOT_R = 503;
const PLOT_T = 28;
const PLOT_B = 464;
const PLOT_L = 83;

// text drawn slightly wide, like the original rendering
const T = ({ x, y, anchor = 'middle', rotate = 0, children }: any) => (
  <text
    transform={`translate(${x},${y}) rotate(${rotate}) scale(1.1,1)`}
    textAnchor={anchor}
    fontSize={15}
    fill="#222"
    fontFamily={FONT}
  >
    {children}
  </text>
);

const YTick = (props: any) => {
  const { x, y, payload } = props;
  const ax = x + 10;
  return (
    <g>
      <line x1={ax} x2={ax + 5} y1={y} y2={y} stroke="#666" />
      <line x1={PLOT_R - 5} x2={PLOT_R} y1={y} y2={y} stroke="#666" />
      <T x={x} y={y + 5.3} anchor="end">{String(Number(payload.value.toFixed(2)))}</T>
    </g>
  );
};

const XTick = (props: any) => {
  const { x, y, payload } = props;
  const ay = y - 12;
  const i = xTicks.findIndex((t) => Math.abs(t - payload.value) < 1e-9);
  return (
    <g>
      <line x1={x} x2={x} y1={ay} y2={ay - 5} stroke="#666" />
      <line x1={x} x2={x} y1={PLOT_T} y2={PLOT_T + 5} stroke="#666" />
      <T x={x} y={y + 11}>{xTickLabels[i]}</T>
    </g>
  );
};

const App: React.FC = () => {
  const fits = bands.map((b) => fitPhase.map((x, i) => ({ x, y: b.fit[i] })));
  const obs = bands.map((b) => [
    ...phaseMid.map((x, i) => ({ x, y: b.mid[i] })),
    ...phaseDense.map((x, i) => ({ x, y: b.dense[i] })),
    ...b.obs.map(([x, y]) => ({ x, y })),
  ]);

  return (
    <div style={{ position: 'relative', width: W, height: 517, fontFamily: FONT }}>
      <ComposedChart width={W} height={H} margin={{ top: PLOT_T, right: W - PLOT_R, bottom: 0, left: 0 }}>
        <XAxis
          type="number"
          dataKey="x"
          domain={[-0.04, 0.04]}
          ticks={xTicks}
          interval={0}
          height={H - PLOT_B}
          tickSize={0}
          tickMargin={12}
          axisLine={false}
          tick={<XTick />}
          allowDataOverflow
        />
        <YAxis
          type="number"
          dataKey="y"
          domain={[-0.03, 0.24]}
          ticks={yTicks}
          interval={0}
          reversed
          width={PLOT_L}
          tickSize={0}
          tickMargin={10}
          axisLine={false}
          tick={<YTick />}
          allowDataOverflow
        />
        <ReferenceArea x1={-0.04} x2={0.04} y1={-0.03} y2={0.24} fill="none" stroke="#444" strokeWidth={1.3} />
        {bands.map((b, k) => (
          <Scatter
            key={b.name}
            name={`Observations in passband: ${b.name}`}
            data={obs[k]}
            fill={b.color}
            isAnimationActive={false}
            shape={(p: any) => <circle cx={p.cx} cy={p.cy} r={1.5} fill={b.color} />}
          />
        ))}
        {bands.map((b, k) => (
          <Line
            key={`fit-${b.name}`}
            data={fits[k]}
            dataKey="y"
            type="monotone"
            stroke="#000"
            strokeWidth={2}
            dot={false}
            activeDot={false}
            legendType="none"
            isAnimationActive={false}
          />
        ))}
      </ComposedChart>

      {/* title, axis titles and legend, in page coordinates */}
      <svg width={530} height={525} style={{ position: 'absolute', left: -8, top: -8, pointerEvents: 'none' }}>
        <T x={300.5} y={16.5}>Passbands: B, V, R, and I simultaneously</T>
        <T x={300} y={519}>Orbital Phase</T>
        <T x={19} y={254} rotate={-90}>Relative Magnitude [mag]</T>
        {bands.map((b, k) => (
          <g key={b.name}>
            <T x={437} y={402 + k * 16.2} anchor="end">{`Observations in passband: ${b.name}`}</T>
            <circle cx={468.5} cy={396 + k * 16.5} r={1.3} fill={b.color} />
          </g>
        ))}
        <T x={437} y={467} anchor="end">Fits</T>
        <line x1={448} x2={491} y1={462.7} y2={462.7} stroke="#000" strokeWidth={2} />
      </svg>
    </div>
  );
};

export default App;
